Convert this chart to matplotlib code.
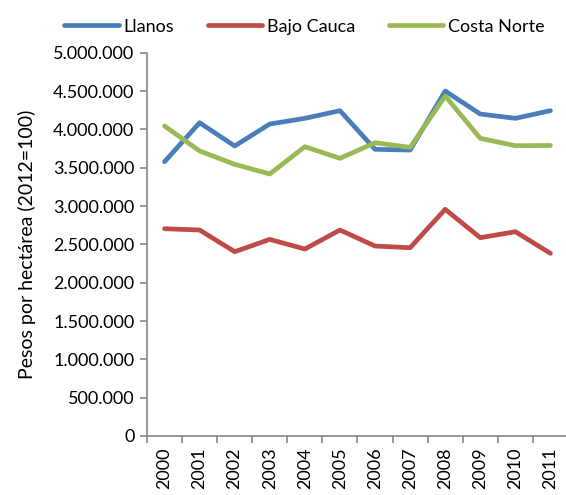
import numpy as np
import matplotlib.pyplot as plt
from matplotlib.ticker import FuncFormatter, FixedLocator

plt.rcParams['font.family'] = ['Lato', 'DejaVu Sans']

years = [str(y) for y in range(2000, 2012)]
llanos = [3578000, 4087000, 3783000, 4070000, 4144000, 4244000,
          3740000, 3730000, 4500000, 4200000, 4144000, 4244000]
bajo_cauca = [2704000, 2687000, 2404000, 2565000, 2439000, 2687000,
              2478000, 2456000, 2957000, 2587000, 2665000, 2383000]
costa_norte = [4044000, 3718000, 3544000, 3418000, 3774000, 3622000,
               3826000, 3765000, 4435000, 3883000, 3787000, 3790000]

fig = plt.figure(figsize=(5.66, 4.95), dpi=100)
ax = fig.add_axes([0.2597, 0.1192, 0.7438, 0.7743])

x = np.arange(len(years))
lw = 3.4
ax.plot(x, llanos, color='#4A7EBB', lw=lw, label='Llanos', solid_capstyle='round')
ax.plot(x, bajo_cauca, color='#BE4B48', lw=lw, label='Bajo Cauca', solid_capstyle='round')
ax.plot(x, costa_norte, color='#98B954', lw=lw, label='Costa Norte', solid_capstyle='round')

ax.set_xlim(-0.5, len(years) - 0.5)
ax.set_ylim(0, 5000000)
ax.set_yticks(np.arange(0, 5000001, 500000))
ax.yaxis.set_major_formatter(FuncFormatter(lambda v, p: f'{int(v):,}'.replace(',', '.')))

ax.xaxis.set_major_locator(FixedLocator(np.arange(-0.5, len(years), 1)))
ax.xaxis.set_major_formatter(FuncFormatter(lambda v, p: ''))
ax.set_xticks(x, minor=True)
ax.set_xticklabels(years, minor=True, rotation=90, fontsize=13)
ax.tick_params(axis='x', which='minor', length=0, pad=8)
ax.tick_params(axis='x', which='major', length=5, color='#868686', width=1.2)
ax.tick_params(axis='y', length=5, color='#868686', width=1.2, labelsize=13, pad=4)

for s in ['top', 'right']:
    ax.spines[s].set_visible(False)
for s in ['left', 'bottom']:
    ax.spines[s].set_color('#868686')
    ax.spines[s].set_linewidth(1.2)

ax.set_ylabel('Pesos por hectárea (2012=100)', fontsize=14, labelpad=12)

fig.legend(loc='upper left', bbox_to_anchor=(0.085, 0.995), ncol=3, frameon=False,
           fontsize=13, handlelength=3.0, handletextpad=0.25, columnspacing=1.9)

fig.savefig('out.png', dpi=100)
